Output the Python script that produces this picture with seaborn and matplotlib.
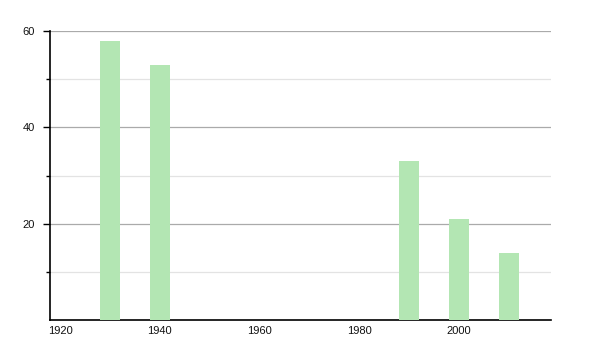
import matplotlib
matplotlib.use("Agg")
import matplotlib.pyplot as plt
import seaborn as sns
import pandas as pd
from matplotlib.ticker import FixedLocator

years = [1930, 1940, 1990, 2000, 2010]
values = [58, 53, 33, 21, 14]
x_ticks = [1920, 1940, 1960, 1980, 2000]
y_ticks = [20, 40, 60]

sns.set_style("white")
plt.rcParams['font.family'] = ['Liberation Sans', 'DejaVu Sans']

df = pd.DataFrame({"year": years, "value": values})

fig = plt.figure(figsize=(6, 3.5), dpi=100)
ax = fig.add_axes([50/600, 30/350, 501/600, 289/350])

sns.barplot(data=df, x="year", y="value", native_scale=True, width=0.4,
            color="#b3e6b3", saturation=1, linewidth=0, edgecolor="none",
            ax=ax, zorder=3)

ax.set_xlim(1918.0, 2018.5)
ax.set_ylim(0, 60)
ax.set_xlabel("")
ax.set_ylabel("")

ax.xaxis.set_major_locator(FixedLocator(x_ticks))
ax.set_xticklabels([str(t) for t in x_ticks])
ax.yaxis.set_major_locator(FixedLocator(y_ticks))
ax.yaxis.set_minor_locator(FixedLocator([10, 30, 50]))

ax.grid(which="major", axis="y", color="#aaaaaa", linewidth=0.9, zorder=0)
ax.grid(which="minor", axis="y", color="#e3e3e3", linewidth=0.9, zorder=0)
ax.grid(axis="x", visible=False)

for s in ["top", "right"]:
    ax.spines[s].set_visible(False)
for s in ["left", "bottom"]:
    ax.spines[s].set_color("black")
    ax.spines[s].set_linewidth(1.2)

ax.tick_params(axis="y", which="major", left=True, length=5, width=1, color="black",
               labelsize=8, pad=6, labelcolor="#111111")
ax.tick_params(axis="y", which="minor", left=True, length=3, width=1, color="black")
ax.tick_params(axis="x", which="both", bottom=False, length=0, labelsize=8, pad=4,
               labelcolor="#111111")

fig.savefig("out.png", dpi=100)
